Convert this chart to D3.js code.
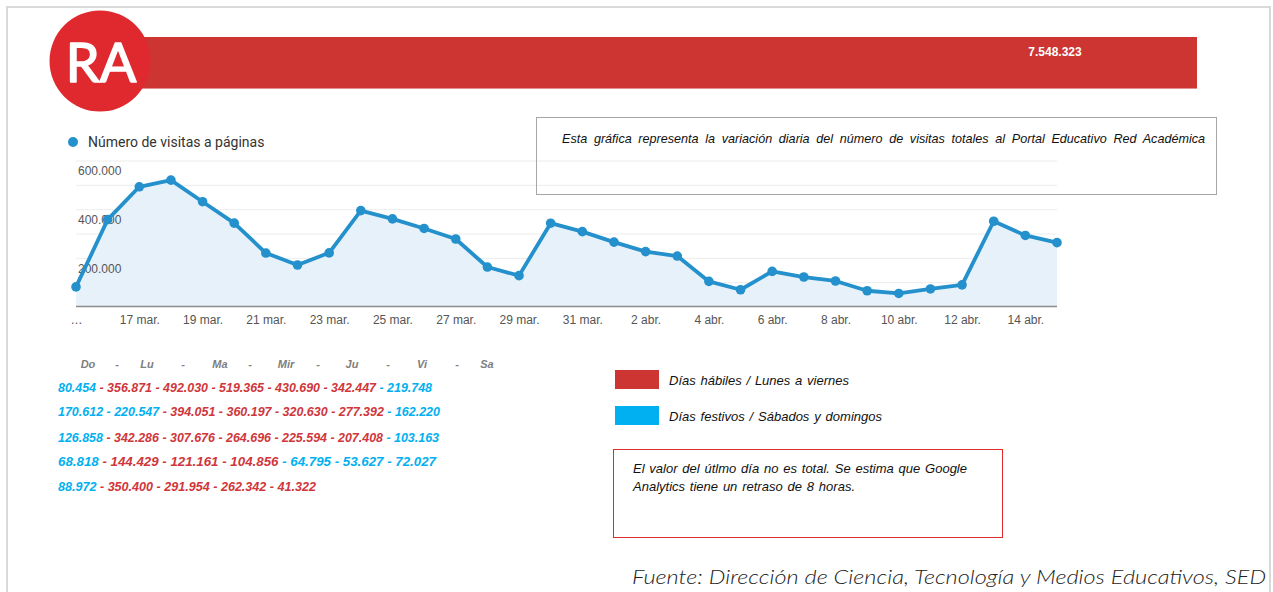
<!DOCTYPE html>
<html><head><meta charset="utf-8">
<script src="https://cdn.jsdelivr.net/npm/d3@7"></script>
<style>
html,body{margin:0;padding:0;background:#fff;}
svg{display:block;}
text{font-family:"Liberation Sans",Arial,sans-serif;}
</style></head><body>
<svg id="c" width="1273" height="592"></svg>
<script>
// ---------------- DATA ----------------
const dates = ["15 mar.","16 mar.","17 mar.","18 mar.","19 mar.","20 mar.","21 mar.",
  "22 mar.","23 mar.","24 mar.","25 mar.","26 mar.","27 mar.","28 mar.",
  "29 mar.","30 mar.","31 mar.","1 abr.","2 abr.","3 abr.","4 abr.",
  "5 abr.","6 abr.","7 abr.","8 abr.","9 abr.","10 abr.","11 abr.",
  "12 abr.","13 abr.","14 abr.","15 abr.","16 abr."];
const visits = [80454,356871,492030,519365,430690,342447,219748,
  170612,220547,394051,360197,320630,277392,162220,
  126858,342286,307676,264696,225594,207408,103163,
  68818,144429,121161,104856,64795,53627,72027,
  88972,350400,291954,262342,41322];
// h = día hábil, f = festivo / fin de semana
const dayTypes = ["f","h","h","h","h","h","f",
  "f","f","h","h","h","h","f",
  "f","h","h","h","h","h","f",
  "f","h","h","h","f","f","f",
  "f","h","h","h","h"];
const chartDays = 32; // the chart shows 15 mar. – 15 abr.
const tickDates = ["15 mar.","17 mar.","19 mar.","21 mar.","23 mar.","25 mar.","27 mar.","29 mar.",
  "31 mar.","2 abr.","4 abr.","6 abr.","8 abr.","10 abr.","12 abr.","14 abr."];
const tickLabels = ["…","17 mar.","19 mar.","21 mar.","23 mar.","25 mar.","27 mar.","29 mar.",
  "31 mar.","2 abr.","4 abr.","6 abr.","8 abr.","10 abr.","12 abr.","14 abr."];
const yLabelTicks = [200000,400000,600000];
const yGridTicks = [100000,200000,300000,400000,500000,600000];
const weekdayLabels = ["Do","Lu","Ma","Mir","Ju","Vi","Sa"];
const totalVisits = "7.548.323";
const logoText = "RA";
const seriesName = "Número de visitas a páginas";
const description = "Esta gráfica representa la variación diaria del número de visitas totales al Portal Educativo Red Académica";
const legendItems = [["Días hábiles / Lunes a viernes","h"],["Días festivos / Sábados y domingos","f"]];
const noteLines = ["El valor del útlmo día no es total. Se estima que Google","Analytics tiene un retraso de 8 horas."];
const source = "Fuente: Dirección de Ciencia, Tecnología y Medios Educativos, SED";

// ---------------- DRAW ----------------
const svg = d3.select("#c");
const fmt = d3.formatLocale({decimal:",", thousands:".", grouping:[3], currency:["$",""]}).format(",");
const typeColor = {h:"#d0363a", f:"#00b0f0"};
const legendColor = {h:"#cd3533", f:"#00b0f0"};
const lineColor = "#2490cc";

// frame
svg.append("rect").attr("x",7).attr("y",7).attr("width",1263).attr("height",620)
  .attr("fill","none").attr("stroke","#d9d9d9").attr("stroke-width",2);

// banner
svg.append("rect").attr("x",100).attr("y",37).attr("width",1097).attr("height",51).attr("fill","#cd3533");
svg.append("line").attr("x1",100).attr("x2",1197).attr("y1",88.5).attr("y2",88.5).attr("stroke","#e39090").attr("stroke-width",1);
svg.append("text").attr("x",1055).attr("y",56).attr("text-anchor","middle")
  .attr("font-size",12).attr("font-weight","bold").attr("fill","#fff").text(totalVisits);
svg.append("circle").attr("cx",100).attr("cy",61).attr("r",50.5).attr("fill","#e0292e");
svg.append("text").attr("x",101).attr("y",82).attr("text-anchor","middle")
  .style("font-family","Lato, 'Open Sans', sans-serif").attr("font-size",54).attr("font-weight",400)
  .attr("fill","#fff").attr("stroke","#fff").attr("stroke-width",1.6).attr("stroke-linejoin","round")
  .text(logoText);

// chart
const chartDates = dates.slice(0, chartDays);
const chartData = chartDates.map((d,i)=>({date:d, v:visits[i]}));
const x = d3.scalePoint().domain(chartDates).range([76,1057]);
const y = d3.scaleLinear().domain([0,600000]).range([306.5,160.5]);

const grid = svg.append("g").attr("transform","translate(76,0)")
  .call(d3.axisLeft(y).tickValues(yGridTicks).tickSize(-981).tickFormat(""));
grid.select(".domain").remove();
grid.selectAll(".tick line").attr("stroke","#ececec");

svg.append("path").datum(chartData)
  .attr("fill","#e7f1f9")
  .attr("d", d3.area().x(d=>x(d.date)).y0(y(0)).y1(d=>y(d.v)));

const xAxis = svg.append("g").attr("transform",`translate(0,${y(0)})`)
  .call(d3.axisBottom(x).tickValues(tickDates).tickSize(0).tickPadding(9)
    .tickFormat(d=>tickLabels[tickDates.indexOf(d)]));
xAxis.select(".domain").attr("stroke","#8c8c8c").attr("stroke-width",1.5)
  .attr("d",`M76,0H1057`);
xAxis.selectAll(".tick text").attr("font-size",12).attr("fill","#555")
  .style("font-family","'Liberation Sans',Arial,sans-serif");

const yAxis = svg.append("g").attr("transform","translate(78,0)")
  .call(d3.axisRight(y).tickValues(yLabelTicks).tickSize(0).tickPadding(0).tickFormat(fmt));
yAxis.select(".domain").remove();
yAxis.selectAll(".tick text").attr("font-size",12).attr("fill","#555").attr("dy","1.2em")
  .attr("x",0).style("font-family","'Liberation Sans',Arial,sans-serif");

svg.append("path").datum(chartData).attr("fill","none").attr("stroke",lineColor)
  .attr("stroke-width",3.8).attr("stroke-linejoin","round")
  .attr("d", d3.line().x(d=>x(d.date)).y(d=>y(d.v)));
svg.append("g").selectAll("circle").data(chartData).join("circle")
  .attr("cx",d=>x(d.date)).attr("cy",d=>y(d.v)).attr("r",4.8).attr("fill",lineColor);

// series legend
svg.append("circle").attr("cx",73).attr("cy",142).attr("r",5).attr("fill",lineColor);
svg.append("text").attr("x",88).attr("y",147).attr("font-size",14).attr("fill","#333")
  .style("font-family","Roboto, Arial, sans-serif").text(seriesName);

function fitWords(sel, target){
  const n = sel.node(); const w = n.getComputedTextLength();
  const spaces = (n.textContent.match(/ /g)||[]).length;
  if (spaces) sel.attr("word-spacing", (target-w)/spaces);
}

// description box
svg.append("rect").attr("x",536.5).attr("y",117.5).attr("width",680).attr("height",77)
  .attr("fill","none").attr("stroke","#a6a6a6");
const desc = svg.append("text").attr("x",562).attr("y",143).attr("font-size",12.6)
  .attr("font-style","italic").attr("fill","#111").text(description);
fitWords(desc, 643);

// weekday header
const hdrX = [88,147,220,286,352,422,487];
const dashX = [117,183,250,318,388,457];
const hdr = svg.append("g").attr("font-size",11).attr("font-style","italic").attr("font-weight","bold").attr("fill","#808080");
weekdayLabels.forEach((t,i)=>{
  hdr.append("text").attr("x",hdrX[i]).attr("y",368).attr("text-anchor","middle").text(t);
  if (i<dashX.length) hdr.append("text").attr("x",dashX[i]).attr("y",368).attr("text-anchor","middle").text("-");
});

// table rows
const rowY = [392,416,442,466,491];
const rowW = [374,382,381,378,258];
d3.range(Math.ceil(visits.length/7)).forEach(w=>{
  const t = svg.append("text").attr("x",58).attr("y",rowY[w]).attr("font-size",12.8)
    .attr("font-style","italic").attr("font-weight","bold").style("white-space","pre");
  visits.slice(w*7, w*7+7).forEach((v,i)=>{
    const c = typeColor[dayTypes[w*7+i]];
    if (i>0) t.append("tspan").attr("fill",c).text(" - ");
    t.append("tspan").attr("fill",c).text(fmt(v));
  });
  t.attr("textLength",rowW[w]).attr("lengthAdjust","spacingAndGlyphs");
});

// day type legend
const legY = [370,406];
const legW = [180,213];
legendItems.forEach(([label,type],i)=>{
  svg.append("rect").attr("x",615).attr("y",legY[i]).attr("width",44).attr("height",19).attr("fill",legendColor[type]);
  const lt = svg.append("text").attr("x",669).attr("y",legY[i]+15).attr("font-size",13)
    .attr("font-style","italic").attr("fill","#111").text(label);
  fitWords(lt, legW[i]);
});

// note box
svg.append("rect").attr("x",613.5).attr("y",449.5).attr("width",389).attr("height",88)
  .attr("fill","none").attr("stroke","#e02a2a");
const noteW = [334,222];
noteLines.forEach((l,i)=>{
  const nt = svg.append("text").attr("x",633).attr("y",473+i*17.5).attr("font-size",13)
    .attr("font-style","italic").attr("fill","#111").text(l);
  fitWords(nt, noteW[i]);
});

// source
svg.append("text").attr("x",632).attr("y",584).attr("font-size",20).attr("font-style","italic")
  .attr("font-weight",300).style("font-family","Lato, 'Open Sans', sans-serif").attr("fill","#222")
  .attr("textLength",634).attr("lengthAdjust","spacingAndGlyphs").text(source);
</script>
</body></html>
